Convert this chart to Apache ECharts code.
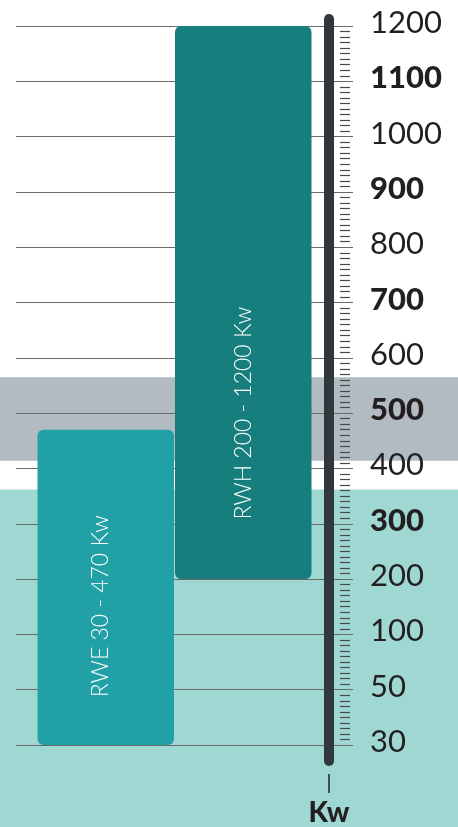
<!doctype html>
<html lang="en">
<head>
	<meta charset="UTF-8">
	<title>RWE / RWH Kw</title>
	<style>
		html, body { margin: 0; padding: 0; background: #fff; }
		#main { width: 458px; height: 827px; }
	</style>
	<script src="https://cdn.jsdelivr.net/npm/echarts@6/dist/echarts.min.js"></script>
</head>
<body>
<div id="main"></div>
<script type="text/javascript">
	// scale ticks (Kw), equally spaced on the axis
	var ticks = [30, 50, 100, 200, 300, 400, 500, 600, 700, 800, 900, 1000, 1100, 1200];
	var boldTicks = [300, 500, 700, 900, 1100];
	// ranges
	var names = ['RWE', 'RWH'];
	var rangeLow = [30, 200];
	var rangeHigh = [470, 1200];
	var barColors = ['#21a0a5', '#167f7d'];
	// background bands (Kw), null = down to the bottom
	var bandLow = [null, 414];
	var bandHigh = [362, 565];
	var bandColors = ['#9fd8d3', '#b1bbc1'];

	// Kw -> position on the stepped scale
	function toIdx(kw) {
		for (var i = 0; i < ticks.length - 1; i++) {
			if (kw <= ticks[i + 1]) return i + (kw - ticks[i]) / (ticks[i + 1] - ticks[i]);
		}
		return ticks.length - 1;
	}

	var chartH = 827, gTop = 26, gBottom = 82;
	var unit = (chartH - gTop - gBottom) / (ticks.length - 1);
	var yMin = -gBottom / unit, yMax = ticks.length - 1 + gTop / unit;

	var bandData = [];
	for (var b = 0; b < bandLow.length; b++) {
		bandData.push([bandLow[b] == null ? yMin : toIdx(bandLow[b]), toIdx(bandHigh[b])]);
	}
	var labelPos = [['46%', '56%'], ['50%', '70%']];
	var baseData = [], spanData = [];
	for (var k = 0; k < names.length; k++) {
		baseData.push(toIdx(rangeLow[k]));
		spanData.push({
			value: toIdx(rangeHigh[k]) - toIdx(rangeLow[k]),
			itemStyle: {color: barColors[k]},
			label: {position: labelPos[k]}
		});
	}

	var myChart = echarts.init(document.getElementById('main'));
	var option = {
		animation: false,
		textStyle: {fontFamily: 'Lato'},
		grid: [
			{left: 0, right: 0, top: 0, bottom: 0},
			{left: 16, right: 105, top: gTop, bottom: gBottom},
			{left: 16, right: 105, top: 19, bottom: 64},
			{left: 37, right: 146, top: gTop, bottom: gBottom}
		],
		xAxis: [
			{gridIndex: 0, type: 'value', min: 0, max: 1, show: false},
			{gridIndex: 1, type: 'value', min: 0, max: 1, show: false},
			{gridIndex: 2, type: 'value', min: 0, max: 1, show: false},
			{gridIndex: 3, type: 'category', data: names, show: false}
		],
		yAxis: [
			{gridIndex: 0, type: 'value', min: yMin, max: yMax, show: false},
			{
				gridIndex: 1, type: 'value', position: 'right', offset: -3, z: 3,
				min: 0, max: ticks.length - 1, interval: 1,
				axisLine: {show: false, onZero: false},
				axisTick: {show: false, inside: true},
				minorTick: {show: true, splitNumber: 10, length: 10, lineStyle: {color: '#4a4a4a', width: 1.2}},
				splitLine: {show: true, lineStyle: {color: '#6a6a6a', width: 1}},
				axisLabel: {
					margin: 20,
					formatter: function (v) {
						var t = ticks[Math.round(v)];
						return boldTicks.indexOf(t) >= 0 ? '{b|' + t + '}' : '{n|' + t + '}';
					},
					rich: {
						n: {fontSize: 31, color: '#231f20', fontFamily: 'Lato', padding: [0, 0, 6, 0]},
						b: {fontSize: 31, color: '#231f20', fontWeight: 900, fontFamily: 'Lato', padding: [0, 0, 6, 0]}
					}
				}
			},
			{
				gridIndex: 2, type: 'value', position: 'right', offset: -24, z: 6,
				min: 0, max: 1,
				axisLine: {show: true, onZero: false, lineStyle: {color: '#30383b', width: 10}},
				axisTick: {show: false}, axisLabel: {show: false}, splitLine: {show: false},
				name: 'Kw', nameLocation: 'start', nameGap: 38,
				nameTextStyle: {fontSize: 28, fontWeight: 900, color: '#231f20', fontFamily: 'Lato'}
			},
			{gridIndex: 3, type: 'value', min: 0, max: ticks.length - 1, show: false}
		],
		graphic: [{
			type: 'line', z: 10,
			shape: {x1: 329, y1: 774, x2: 329, y2: 793},
			style: {stroke: '#231f20', lineWidth: 1.5}
		}],
		series: [
			{
				type: 'custom', xAxisIndex: 0, yAxisIndex: 0, z: 1, silent: true,
				data: bandData,
				renderItem: function (params, api) {
					var p0 = api.coord([0, api.value(0)]);
					var p1 = api.coord([1, api.value(1)]);
					return {
						type: 'rect',
						shape: {x: p0[0], y: p1[1], width: p1[0] - p0[0], height: p0[1] - p1[1]},
						style: {fill: bandColors[params.dataIndex]}
					};
				}
			},
			{
				type: 'bar', xAxisIndex: 3, yAxisIndex: 3, stack: 'r', z: 5, silent: true,
				barWidth: 136.5,
				itemStyle: {color: 'transparent'},
				data: baseData
			},
			{
				type: 'bar', xAxisIndex: 3, yAxisIndex: 3, stack: 'r', z: 5,
				barWidth: 136.5,
				itemStyle: {borderRadius: 6},
				label: {
					show: true, rotate: 90, align: 'center', verticalAlign: 'middle',
					color: '#fff', fontSize: 23, fontWeight: 300, fontFamily: 'Lato',
					formatter: function (p) {
						var i = p.dataIndex;
						return names[i] + ' ' + rangeLow[i] + ' - ' + rangeHigh[i] + ' Kw';
					}
				},
				data: spanData
			}
		]
	};
	myChart.setOption(option);
</script>
</body>
</html>
